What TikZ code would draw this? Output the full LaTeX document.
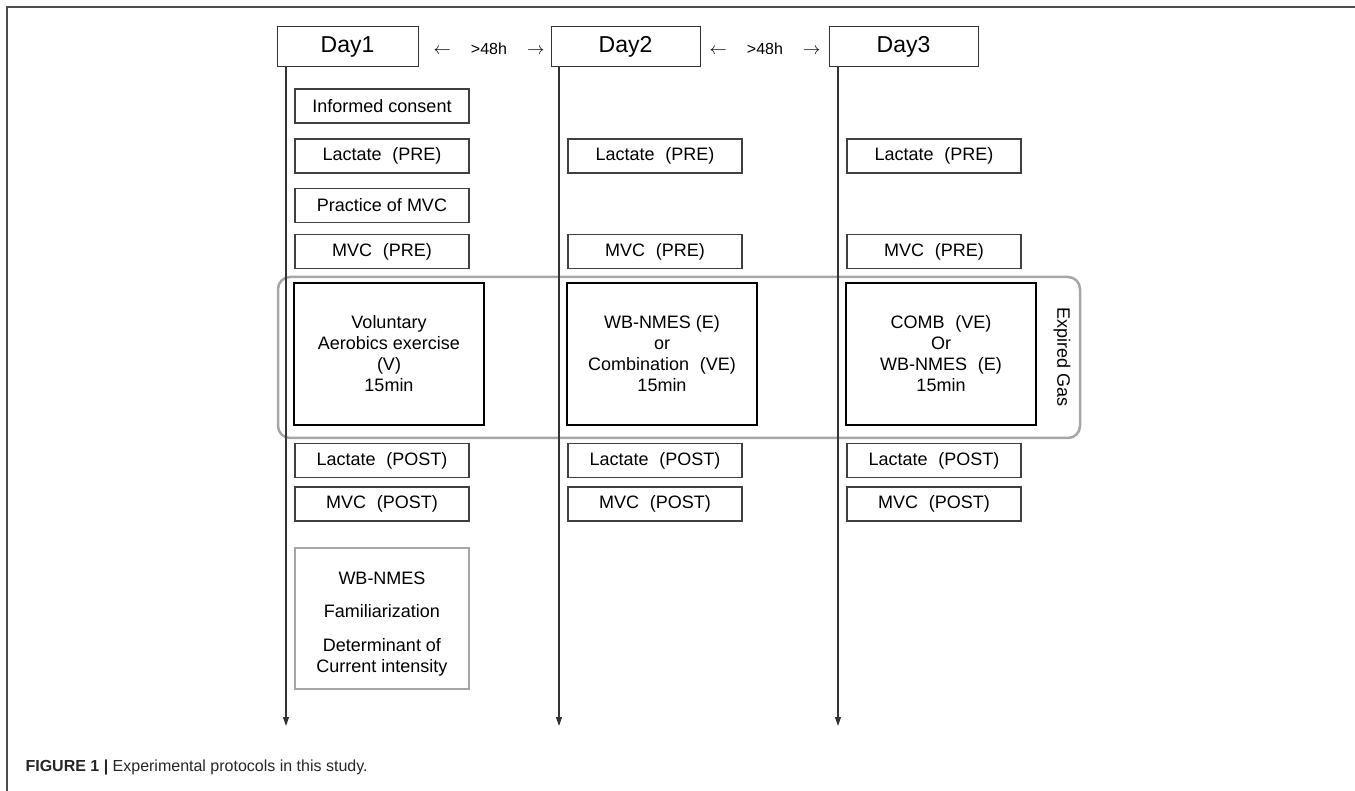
\documentclass[tikz,border=0pt]{standalone}
\usepackage{fontspec}
\setmainfont{Liberation Sans}
\usetikzlibrary{arrows.meta, positioning}

% spaced brackets, as in the protocol sheet
\newcommand{\fw}[1]{\hspace{0.6em}(#1)}

\begin{document}
\begin{tikzpicture}[x=1pt, y=-1pt,
    daybox/.style={draw=black!80, line width=1pt, minimum width=149pt,
      minimum height=40pt, inner sep=0pt, font=\fontsize{23}{27}\selectfont},
    stepbox/.style={draw=black!75, line width=1.1pt, minimum width=174pt,
      minimum height=34pt, inner sep=0pt, font=\fontsize{18}{21}\selectfont},
    exbox/.style={draw=black, line width=2.2pt, minimum width=190pt,
      minimum height=142pt, inner sep=0pt, align=center,
      font=\fontsize{18}{21}\selectfont},
    gasframe/.style={draw=black!35, line width=2.5pt, rounded corners=12pt,
      minimum width=802pt, minimum height=161pt},
    timeline/.style={draw=black!80, line width=1.2pt,
      -{Triangle[length=9pt,width=6pt]}},
    gapnote/.style={font=\fontsize{16}{19}\selectfont}]

  \useasboundingbox (0,0) rectangle (1355,791);

  % Outer frame
  \draw[black!70, line width=1.6pt] (7,791) -- (7,7) -- (1355,7);

  % Day boxes
  \node[daybox, minimum width=141pt] (day1) at (347.5,47) {Day1};
  \node[daybox] (day2) at (625.5,47) {Day2};
  \node[daybox] (day3) at (903.5,47) {Day3};

  % Intervals between days
  \node[gapnote] (gap12) at (489,49) {$\leftarrow$\hspace{20pt}>48h\hspace{20pt}$\rightarrow$};
  \node[gapnote] (gap23) at (765,49) {$\leftarrow$\hspace{20pt}>48h\hspace{20pt}$\rightarrow$};

  % Expired gas frame
  \node[gasframe] (gas) at (679,357.5) {};
  \node[rotate=-90, font=\fontsize{18}{21}\selectfont] (gaslabel) at (1062,357) {Expired Gas};

  % Time lines
  \coordinate (end1) at (286,726);
  \coordinate (end2) at (559,726);
  \coordinate (end3) at (838,726);
  \foreach \i in {1,2,3}
    \draw[timeline] (day\i.south -| end\i) -- (end\i);

  % Steps on every day
  \foreach \col/\x in {1/382, 2/655, 3/934} {
    \node[stepbox] (lacpre\col) at (\x,156) {Lactate\fw{PRE}};
    \node[stepbox] (mvcpre\col) at (\x,251.5) {MVC\fw{PRE}};
    \node[stepbox] (lacpost\col) at (\x,460.5) {Lactate\fw{POST}};
    \node[stepbox] (mvcpost\col) at (\x,504) {MVC\fw{POST}};
  }

  % Steps on day 1 only
  \node[stepbox] (consent) at (382,106) {Informed consent};
  \node[stepbox] (practice) at (382,205.5) {Practice of MVC};
  \node[stepbox, draw=black!35, minimum height=141pt, align=center] (fam) at (382,618.5)
    {\rule{0pt}{24pt}WB-NMES\\[12pt]Familiarization\\[13pt]Determinant of\\Current intensity};

  % Exercise sessions
  \node[exbox] (ex1) at (389,354) {Voluntary\\Aerobics exercise\\(V)\\15min};
  \node[exbox] (ex2) at (662,354) {WB-NMES (E)\\or\\Combination\fw{VE}\\15min};
  \node[exbox] (ex3) at (941,354) {COMB\fw{VE}\\Or\\WB-NMES\fw{E}\\15min};

  % Caption
  \node[anchor=base west, font=\fontsize{16}{19}\selectfont, text=black!85] (caption) at (22,771)
    {\textbf{FIGURE 1 |} Experimental protocols in this study.};
\end{tikzpicture}
\end{document}
